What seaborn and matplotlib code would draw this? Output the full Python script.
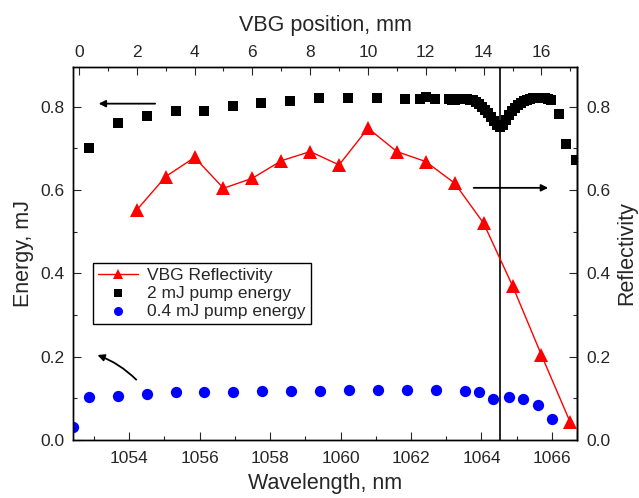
import matplotlib
matplotlib.use("Agg")
import seaborn as sns
import matplotlib.pyplot as plt
from matplotlib.ticker import MultipleLocator

# VBG reflectivity vs VBG position (mm)
vbg_pos = [2, 3, 4, 5, 6, 7, 8, 9, 10, 11, 12, 13, 14, 15, 16, 17]
reflectivity = [0.552, 0.632, 0.678, 0.604, 0.628, 0.670, 0.692, 0.660,
                0.748, 0.692, 0.668, 0.616, 0.520, 0.370, 0.204, 0.042]

# 2 mJ pump energy vs VBG position (mm)
pos_2mj = [0.36, 1.36, 2.35, 3.35, 4.34, 5.33, 6.31, 7.30, 8.31, 9.30, 10.30,
           11.28, 11.80, 11.99, 12.32,
           12.80, 12.91, 13.01, 13.11, 13.22, 13.32, 13.42, 13.53, 13.63, 13.74,
           13.84, 13.94, 14.05, 14.15, 14.26, 14.36, 14.46, 14.57, 14.67, 14.78,
           14.88, 14.98, 15.09, 15.19, 15.29, 15.40, 15.50, 15.61, 15.71, 15.81,
           15.92, 16.02, 16.12, 16.23, 16.33, 16.60, 16.85, 17.20]
energy_2mj = [0.700, 0.760, 0.778, 0.790, 0.790, 0.802, 0.808, 0.814, 0.820, 0.820, 0.820,
              0.819, 0.819, 0.823, 0.819,
              0.817, 0.816, 0.816, 0.817, 0.818, 0.818, 0.817, 0.816, 0.815, 0.811,
              0.806, 0.799, 0.792, 0.785, 0.775, 0.766, 0.756, 0.750, 0.756, 0.768,
              0.780, 0.790, 0.797, 0.804, 0.809, 0.814, 0.816, 0.818, 0.820, 0.820,
              0.821, 0.821, 0.820, 0.818, 0.816, 0.783, 0.710, 0.672]

# 0.4 mJ pump energy vs VBG position (mm)
pos_04mj = [-0.20, 0.36, 1.34, 2.34, 3.35, 4.34, 5.33, 6.33, 7.34, 8.34, 9.34,
            10.36, 11.36, 12.36, 13.36, 13.85, 14.34, 14.87, 15.36, 15.87, 16.36]
energy_04mj = [0.032, 0.102, 0.106, 0.110, 0.114, 0.114, 0.116, 0.117, 0.117, 0.118, 0.120,
               0.120, 0.120, 0.120, 0.118, 0.115, 0.099, 0.104, 0.099, 0.083, 0.051]

marker_wavelength = 1064.53

sns.set_style("ticks")
plt.rcParams['font.family'] = ['Liberation Sans', 'DejaVu Sans']
plt.rcParams['xtick.direction'] = 'in'
plt.rcParams['ytick.direction'] = 'in'
plt.rcParams['axes.linewidth'] = 1.0

fig = plt.figure(figsize=(6.39, 4.98), dpi=100)
ax = fig.add_axes([0.1142, 0.1165, 0.7888, 0.7490])
ax.set_xlim(1052.41, 1066.71)
ax.set_ylim(0, 0.895)

ax_top = ax.twiny()
ax_top.set_xlim(-0.208, 17.232)

sns.lineplot(x=vbg_pos, y=reflectivity, ax=ax_top, color='#ff0000', lw=1,
             marker='^', markersize=9.5, markeredgewidth=0, label='VBG Reflectivity')
sns.scatterplot(x=pos_2mj, y=energy_2mj, ax=ax_top, color='black', marker='s',
                s=58, linewidth=0, label='2 mJ pump energy')
sns.scatterplot(x=pos_04mj, y=energy_04mj, ax=ax_top, color='#0000ff', marker='o',
                s=66, linewidth=0, label='0.4 mJ pump energy')

ax.axvline(marker_wavelength, color='black', lw=1.2)

# arrows pointing to the relevant axes
arrow = dict(arrowstyle='-|>', color='black', lw=1.3, mutation_scale=10)
ax.annotate('', xy=(1053.06, 0.807), xytext=(1054.82, 0.807), arrowprops=arrow)
ax.annotate('', xy=(1065.97, 0.605), xytext=(1063.70, 0.605), arrowprops=arrow)
ax.annotate('', xy=(1053.03, 0.206), xytext=(1054.26, 0.140),
            arrowprops=dict(arrow, connectionstyle='arc3,rad=0.12'))

# ticks
ax.xaxis.set_major_locator(MultipleLocator(2))
ax.xaxis.set_minor_locator(MultipleLocator(1))
ax.yaxis.set_major_locator(MultipleLocator(0.2))
ax.yaxis.set_minor_locator(MultipleLocator(0.1))
ax.yaxis.set_major_formatter(matplotlib.ticker.FormatStrFormatter('%.1f'))
ax_top.xaxis.set_major_locator(MultipleLocator(2))
ax_top.xaxis.set_minor_locator(MultipleLocator(1))

ax.tick_params(axis='x', which='both', top=False, labelsize=12.5, pad=8, width=0.8)
ax.tick_params(axis='y', which='both', right=False, labelsize=12.5, pad=6, width=0.8)
ax.tick_params(which='major', length=5.5)
ax.tick_params(which='minor', length=3)
ax_top.tick_params(axis='x', which='both', labelsize=12.5, pad=5, width=0.8, direction='in')
ax_top.tick_params(which='major', length=5.5)
ax_top.tick_params(which='minor', length=3)

sec = ax.secondary_yaxis('right')
sec.yaxis.set_major_locator(MultipleLocator(0.2))
sec.yaxis.set_minor_locator(MultipleLocator(0.1))
sec.yaxis.set_major_formatter(matplotlib.ticker.FormatStrFormatter('%.1f'))
sec.tick_params(which='both', direction='in', labelsize=12.5, pad=7, width=0.8)
sec.tick_params(which='major', length=5.5)
sec.tick_params(which='minor', length=3)

for a in (ax, ax_top):
    for sp in a.spines.values():
        sp.set_color('black')
        sp.set_linewidth(1.0)

ax.set_xlabel('Wavelength, nm', fontsize=15.5, labelpad=5)
ax.set_ylabel('Energy, mJ', fontsize=15.5, labelpad=5)
ax_top.set_xlabel('VBG position, mm', fontsize=15.5, labelpad=10)
sec.set_ylabel('Reflectivity', fontsize=15.5, labelpad=4)

leg = ax_top.legend(loc='upper left', bbox_to_anchor=(0.04, 0.475), borderaxespad=0,
                    fontsize=12.5, frameon=True, fancybox=False, edgecolor='black',
                    framealpha=1, handlelength=2.3, handletextpad=0.5,
                    labelspacing=0.15, borderpad=0.3, markerscale=0.8)
leg.get_frame().set_linewidth(1.0)

fig.savefig('out.png', dpi=100)
